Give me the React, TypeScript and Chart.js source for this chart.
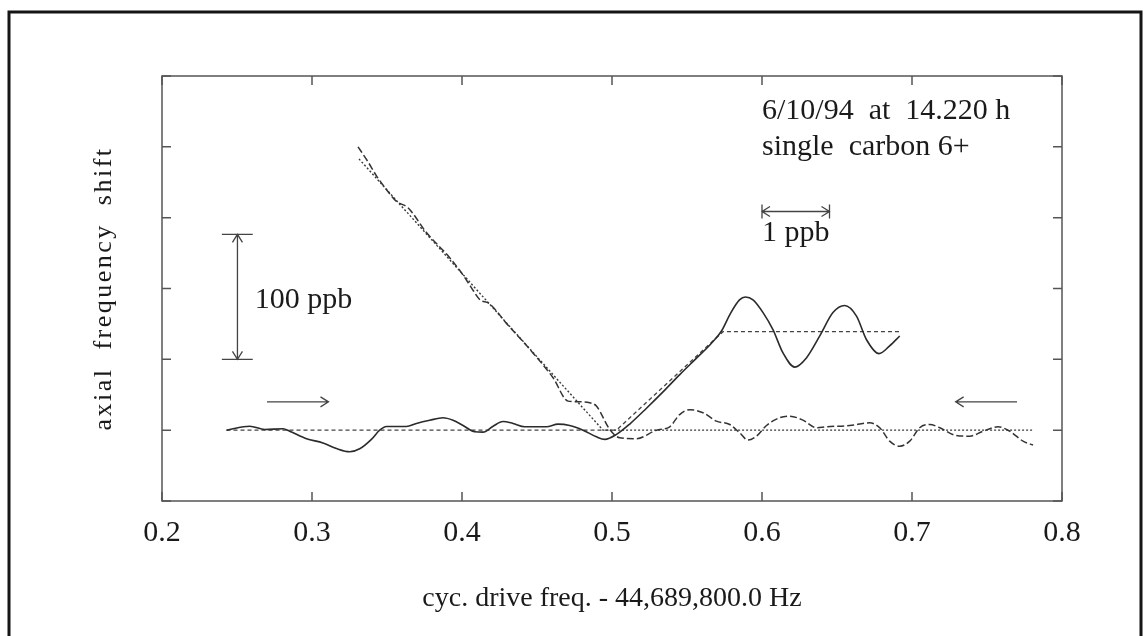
import React, { useEffect, useRef } from "react";
import { Chart, registerables } from "chart.js";

Chart.register(...registerables);

// ---- data (x: cyc. drive freq. offset in Hz, y: axial shift in tick units, baseline 0) ----
const xTickValues = [0.2, 0.3, 0.4, 0.5, 0.6, 0.7, 0.8];
const yTickValues = [-1, 0, 1, 2, 3, 4, 5];

// upward sweep, measured (solid)
const upSweepX = [
  0.243, 0.2585, 0.2685, 0.2807, 0.2851, 0.2963, 0.3073, 0.3163, 0.3251, 0.3318, 0.3396, 0.3451,
  0.3496, 0.3629, 0.3696, 0.3785, 0.3873, 0.394, 0.4007, 0.4085, 0.414, 0.4207, 0.4273, 0.434,
  0.4418, 0.4563, 0.464, 0.4718, 0.4807, 0.4896, 0.4952, 0.503, 0.512, 0.523, 0.534, 0.545,
  0.556, 0.566, 0.573, 0.579, 0.585, 0.589, 0.594, 0.6007, 0.6073, 0.614, 0.6218, 0.6296,
  0.6385, 0.6473, 0.6551, 0.663, 0.6696, 0.678, 0.6851, 0.6918,
];
const upSweepY = [
  0, 0.056, 0.01, 0.02, -0.014, -0.12, -0.18, -0.26, -0.305, -0.263, -0.13, 0,
  0.052, 0.052, 0.095, 0.14, 0.175, 0.14, 0.066, -0.023, -0.028, 0.056, 0.123, 0.095,
  0.048, 0.048, 0.085, 0.066, 0, -0.094, -0.13, -0.06, 0.09, 0.31, 0.54, 0.78,
  1.01, 1.22, 1.4, 1.65, 1.84, 1.88, 1.84, 1.66, 1.42, 1.09, 0.89, 1.02,
  1.33, 1.66, 1.76, 1.61, 1.28, 1.08, 1.19, 1.33,
];

// downward sweep, measured (dashed)
const downSweepX = [
  0.3307, 0.337, 0.343, 0.3495, 0.3563, 0.364, 0.3763, 0.3918, 0.4007, 0.406, 0.412, 0.418,
  0.43, 0.4473, 0.4607, 0.4707, 0.4785, 0.4851, 0.4896, 0.4985, 0.5051, 0.5163, 0.5296, 0.5385,
  0.5451, 0.5518, 0.5607, 0.5696, 0.5785, 0.5851, 0.5907, 0.5963, 0.603, 0.6118, 0.6185, 0.6273,
  0.6363, 0.643, 0.6585, 0.6718, 0.6785, 0.6851, 0.6918, 0.6985, 0.7051, 0.7118, 0.7185, 0.7296,
  0.7385, 0.7474, 0.7574, 0.7651, 0.774, 0.7807,
];
const downSweepY = [
  4.0, 3.8, 3.59, 3.4, 3.23, 3.14, 2.79, 2.435, 2.19, 2.02, 1.84, 1.79,
  1.5, 1.09, 0.74, 0.41, 0.4, 0.387, 0.34, 0.01, -0.107, -0.12, 0, 0.048,
  0.22, 0.29, 0.246, 0.127, 0.08, -0.037, -0.14, -0.085, 0.066, 0.175, 0.198, 0.141,
  0.034, 0.048, 0.066, 0.104, 0.034, -0.155, -0.226, -0.155, 0.034, 0.08, 0.034, -0.075,
  -0.085, -0.014, 0.048, -0.014, -0.155, -0.21,
];

// theory for upward sweep (short dashes)
const upTheoryX = [0.243, 0.503, 0.574, 0.692];
const upTheoryY = [0, 0, 1.39, 1.39];

// theory for downward sweep (dotted)
const downTheoryX = [0.3313, 0.494, 0.7805];
const downTheoryY = [3.83, 0, 0];

const titleX = "cyc. drive freq. - 44,689,800.0 Hz";
const titleY = "axial  frequency  shift";
const noteLine1 = "6/10/94  at  14.220 h";
const noteLine2 = "single  carbon 6+";
const bigScaleLabel = "100 ppb";
const smallScaleLabel = "1 ppb";

const SERIF = "'Liberation Serif', 'Times New Roman', serif";

const zip = (xs: number[], ys: number[]) => xs.map((x, i) => ({ x, y: ys[i] }));

const decorPlugin = {
  id: "decor",
  afterDraw(chart: any) {
    const { ctx, chartArea } = chart;
    const xs = chart.scales.x;
    const ys = chart.scales.y;
    const X = (v: number) => xs.getPixelForValue(v);
    const Y = (v: number) => ys.getPixelForValue(v);
    ctx.save();

    // outer page frame
    ctx.strokeStyle = "#151515";
    ctx.lineWidth = 3;
    ctx.beginPath();
    ctx.moveTo(9, 640);
    ctx.lineTo(9, 12);
    ctx.lineTo(1141, 12);
    ctx.lineTo(1141, 640);
    ctx.stroke();

    // plot frame
    ctx.strokeStyle = "#555";
    ctx.lineWidth = 1.5;
    ctx.strokeRect(chartArea.left, chartArea.top, chartArea.right - chartArea.left, chartArea.bottom - chartArea.top);

    // inward ticks on all four sides
    const tl = 9;
    ctx.beginPath();
    xTickValues.forEach((v) => {
      const px = X(v);
      ctx.moveTo(px, chartArea.bottom);
      ctx.lineTo(px, chartArea.bottom - tl);
      ctx.moveTo(px, chartArea.top);
      ctx.lineTo(px, chartArea.top + tl);
    });
    yTickValues.forEach((v) => {
      const py = Y(v);
      ctx.moveTo(chartArea.left, py);
      ctx.lineTo(chartArea.left + tl, py);
      ctx.moveTo(chartArea.right, py);
      ctx.lineTo(chartArea.right - tl, py);
    });
    ctx.stroke();

    // annotations
    ctx.strokeStyle = "#444";
    ctx.lineWidth = 1.3;
    const head = (x: number, y: number, dx: number, dy: number) => {
      const L = 8, W = 5;
      const bx = x - dx * L, by = y - dy * L;
      ctx.moveTo(bx - dy * W, by + dx * W);
      ctx.lineTo(x, y);
      ctx.lineTo(bx + dy * W, by - dx * W);
    };
    ctx.beginPath();
    // 100 ppb vertical bar
    const bx = X(0.2503), bTop = Y(2.765), bBot = Y(1.0);
    ctx.moveTo(bx, bTop); ctx.lineTo(bx, bBot);
    ctx.moveTo(X(0.2399), bTop); ctx.lineTo(X(0.2605), bTop);
    ctx.moveTo(X(0.2399), bBot); ctx.lineTo(X(0.2605), bBot);
    head(bx, bTop, 0, -1);
    head(bx, bBot, 0, 1);
    // 1 ppb horizontal bar
    const hy = Y(3.087), hl = X(0.6), hr = X(0.645);
    ctx.moveTo(hl, hy); ctx.lineTo(hr, hy);
    ctx.moveTo(hl, hy - 7); ctx.lineTo(hl, hy + 7);
    ctx.moveTo(hr, hy - 7); ctx.lineTo(hr, hy + 7);
    head(hl, hy, -1, 0);
    head(hr, hy, 1, 0);
    // sweep direction arrows
    const ay = Y(0.4);
    ctx.moveTo(X(0.27), ay); ctx.lineTo(X(0.311), ay);
    head(X(0.311), ay, 1, 0);
    ctx.moveTo(X(0.77), ay); ctx.lineTo(X(0.7291), ay);
    head(X(0.7291), ay, -1, 0);
    ctx.stroke();

    // texts
    ctx.fillStyle = "#1a1a1a";
    ctx.font = `30px ${SERIF}`;
    ctx.textAlign = "left";
    ctx.textBaseline = "alphabetic";
    ctx.fillText(bigScaleLabel, X(0.2618), Y(1.725));
    ctx.fillText(smallScaleLabel, X(0.6), Y(2.676));
    ctx.fillText(noteLine1, X(0.6), Y(4.393));
    ctx.fillText(noteLine2, X(0.6), Y(3.889));

    // y axis title, rotated, letter-spaced
    ctx.save();
    ctx.translate(104, (chartArea.top + chartArea.bottom) / 2);
    ctx.rotate(-Math.PI / 2);
    (ctx as any).letterSpacing = "2.5px";
    ctx.font = `26px ${SERIF}`;
    ctx.textAlign = "center";
    ctx.textBaseline = "middle";
    ctx.fillText(titleY, 0, 0);
    ctx.restore();

    ctx.restore();
  },
};

export default function App() {
  const canvasRef = useRef<HTMLCanvasElement | null>(null);

  useEffect(() => {
    if (!canvasRef.current) return;
    const chart = new Chart(canvasRef.current, {
      type: "line",
      data: {
        datasets: [
          {
            label: "upward sweep",
            data: zip(upSweepX, upSweepY),
            borderColor: "#2b2b2b",
            borderWidth: 1.6,
            pointRadius: 0,
            cubicInterpolationMode: "monotone",
            fill: false,
          },
          {
            label: "downward sweep",
            data: zip(downSweepX, downSweepY),
            borderColor: "#333",
            borderWidth: 1.5,
            borderDash: [7, 3],
            pointRadius: 0,
            cubicInterpolationMode: "monotone",
            fill: false,
          },
          {
            label: "theory up",
            data: zip(upTheoryX, upTheoryY),
            borderColor: "#444",
            borderWidth: 1.3,
            borderDash: [4, 3],
            pointRadius: 0,
            tension: 0,
            fill: false,
          },
          {
            label: "theory down",
            data: zip(downTheoryX, downTheoryY),
            borderColor: "#3a3a3a",
            borderWidth: 1.4,
            borderDash: [2, 2],
            pointRadius: 0,
            tension: 0,
            fill: false,
          },
        ],
      },
      options: {
        animation: false,
        responsive: false,
        devicePixelRatio: 1,
        layout: { padding: { left: 162, right: 83, top: 76, bottom: 0 } },
        plugins: { legend: { display: false }, tooltip: { enabled: false } },
        scales: {
          x: {
            type: "linear",
            min: 0.2,
            max: 0.8,
            afterFit: (s: any) => {
              s.height = 135;
            },
            afterBuildTicks: (s: any) => {
              s.ticks = xTickValues.map((v) => ({ value: v }));
            },
            grid: { display: false, drawTicks: false },
            border: { display: false },
            ticks: {
              padding: 14,
              color: "#1a1a1a",
              font: { family: SERIF, size: 30 },
              maxRotation: 0,
              callback: (v: any) => Number(v).toFixed(1),
            },
            title: {
              display: true,
              text: titleX,
              color: "#1a1a1a",
              font: { family: SERIF, size: 28 },
              padding: { top: 0, bottom: 21 },
            },
          },
          y: {
            type: "linear",
            min: -1,
            max: 5,
            afterFit: (s: any) => {
              s.width = 0;
            },
            grid: { display: false, drawTicks: false },
            border: { display: false },
            ticks: { display: false },
          },
        },
      },
      plugins: [decorPlugin],
    } as any);
    return () => chart.destroy();
  }, []);

  return (
    <div style={{ position: "absolute", left: 0, top: 0, width: 1145, height: 636, background: "#fff" }}>
      <canvas ref={canvasRef} width={1145} height={636} />
    </div>
  );
}
